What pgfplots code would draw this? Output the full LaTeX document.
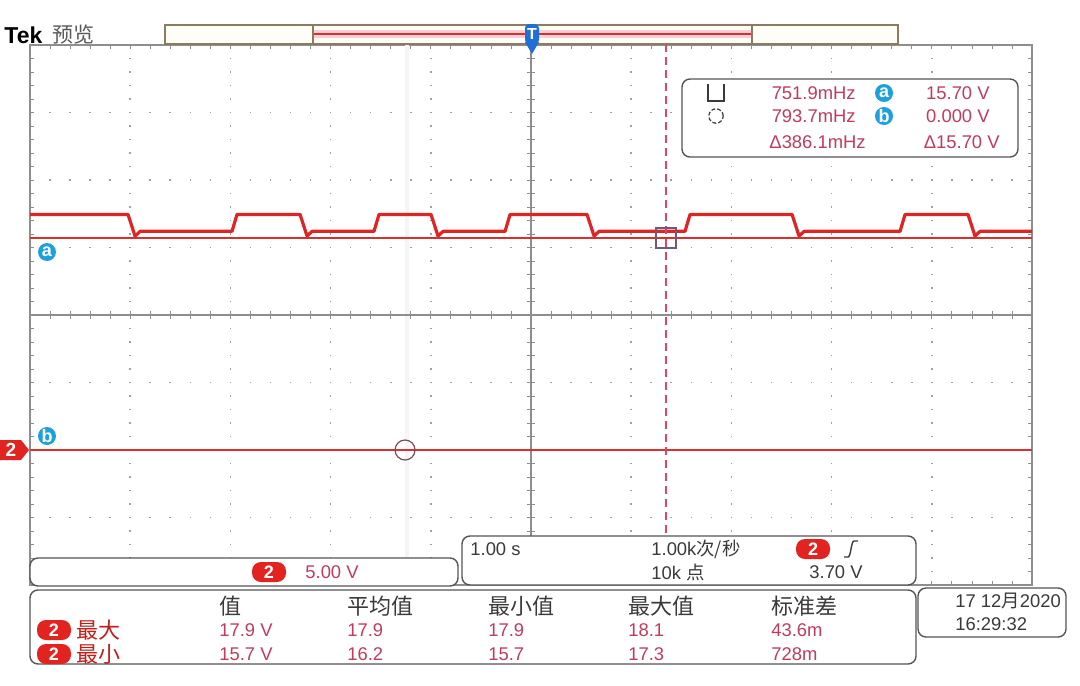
\documentclass[border=0pt]{standalone}
\usepackage{pgfplots}
\pgfplotsset{compat=1.18}
\usepackage{fontspec}
\setmainfont{Liberation Sans}
\newfontfamily\cjk{Noto Sans CJK SC}
\definecolor{trace}{HTML}{E02424}
\definecolor{cur}{HTML}{D9302E}
\definecolor{vcur}{HTML}{E04565}
\definecolor{meas}{HTML}{C03C5C}
\definecolor{grat}{HTML}{8E8E8E}
\definecolor{gdot}{HTML}{A0A0A0}
\definecolor{abblue}{HTML}{1DA1DC}
\definecolor{tblue}{HTML}{1F6FD6}
\definecolor{pill}{HTML}{E2231F}
\definecolor{boxb}{HTML}{555555}
\definecolor{txt}{HTML}{3A3A3A}
\definecolor{barb}{HTML}{8C7B5E}
\definecolor{barf}{HTML}{FFFDF8}
\definecolor{barpink}{HTML}{F8D0D6}
\definecolor{sqc}{HTML}{6F5A7E}
\definecolor{circc}{HTML}{7A4A55}

\begin{document}
\begin{tikzpicture}
\path[use as bounding box] (0,0) rectangle (540pt,-342.5pt);
\begin{axis}[
  at={(15pt,-292.5pt)}, anchor=south west,
  scale only axis, width=501pt, height=270pt,
  xmin=-5, xmax=5, ymin=-10, ymax=30,
  xtick={-5,...,5}, ytick={-10,-5,...,30},
  minor x tick num=4, minor y tick num=4,
  xticklabels={}, yticklabels={},
  tick align=inside, tick pos=both,
  major tick length=2pt, minor tick length=2pt,
  every tick/.style={grat, line width=0.4pt},
  axis line style={grat, line width=0.8pt},
  grid=major,
  major x grid style={gdot, line width=0.8pt, dash pattern=on 0.8pt off 5.95pt, dash phase=0.4pt},
  major y grid style={gdot, line width=0.8pt, dash pattern=on 0.8pt off 9.22pt, dash phase=0.4pt},
  clip=false,
]
% faint band
\addplot[black!4, line width=2pt] coordinates {(-1.24,-10) (-1.24,30)};
% centre crosshair
\draw[grat, line width=0.7pt] (axis cs:-5,10) -- (axis cs:5,10);
\draw[grat, line width=0.7pt] (axis cs:0,-10) -- (axis cs:0,30);
\pgfplotsinvokeforeach{0,...,50}{\draw[grat,line width=0.4pt] (axis cs:{-5+0.2*#1},9.7) -- (axis cs:{-5+0.2*#1},10.3);}
\pgfplotsinvokeforeach{0,...,40}{\draw[grat,line width=0.4pt] (axis cs:-0.04,{-10+#1}) -- (axis cs:0.04,{-10+#1});}
% cursors
\addplot[cur, line width=0.7pt] coordinates {(-5,15.7) (5,15.7)};
\addplot[cur, line width=0.7pt] coordinates {(-5,0) (5,0)};
% trace (channel 2)
\addplot[trace, line width=1.6pt, line join=round] coordinates {
(-5,17.45) (-4.022,17.45) (-3.952,15.85) (-3.90,16.2)
(-2.984,16.2) (-2.934,17.45) (-2.305,17.45) (-2.235,15.85) (-2.185,16.2)
(-1.567,16.2) (-1.517,17.45) (-0.998,17.45) (-0.928,15.85) (-0.878,16.2)
(-0.259,16.2) (-0.209,17.45) (0.559,17.45) (0.629,15.85) (0.679,16.2)
(1.537,16.2) (1.587,17.45) (2.605,17.45) (2.675,15.85) (2.725,16.2)
(3.683,16.2) (3.733,17.45) (4.361,17.45) (4.431,15.85) (4.481,16.2) (5,16.2)};
% vertical cursor
\addplot[vcur, line width=0.8pt, dash pattern=on 4pt off 2.5pt] coordinates {(1.347,-10) (1.347,30)};
\addplot[only marks, mark=square, mark size=5pt, color=sqc, line width=0.6pt] coordinates {(1.347,15.7)};
\addplot[only marks, mark=o, mark size=5pt, color=circc, line width=0.6pt] coordinates {(-1.257,0)};
\end{axis}

\begin{scope}[x=0.5pt,y=-0.5pt,
  mt/.style={font=\fontsize{9.2}{10}\selectfont, text=meas, inner sep=0pt},
  tt/.style={font=\fontsize{9.2}{10}\selectfont, text=txt, inner sep=0pt},
  ht/.style={font=\cjk\fontsize{11}{12}\selectfont, text=txt, inner sep=0pt},
  pl/.style={fill=pill, rounded corners=4.5pt, minimum width=17pt, minimum height=10pt, inner sep=0pt, text=white, font=\bfseries\fontsize{9}{9}\selectfont},
  bc/.style={circle, fill=abblue, minimum size=9pt, inner sep=0pt, text=white, font=\bfseries\fontsize{9}{9}\selectfont},
  bx/.style={draw=boxb, line width=0.7pt, fill=white, rounded corners=4pt}]
% title
\node[anchor=west, font=\bfseries\fontsize{11.5}{12}\selectfont, inner sep=0pt] at (4,35) {Tek};
\node[anchor=west, font=\cjk\fontsize{10.5}{11}\selectfont, text=black!65, inner sep=0pt] at (52,35) {预览};
% record bar
\draw[barb, line width=0.8pt, fill=barf] (165,25) rectangle (898,44);
\fill[barpink] (313,30) rectangle (752,38);
\draw[cur, line width=0.8pt] (313,34) -- (752,34);
\draw[barb, line width=1pt] (313,25) -- (313,44);
\draw[barb, line width=1pt] (752,25) -- (752,44);
% trigger marker
\fill[tblue, rounded corners=2pt] (525,24) rectangle (539,44);
\fill[tblue] (525,42) -- (539,42) -- (532,54) -- cycle;
\node[text=white, font=\bfseries\fontsize{8}{8}\selectfont, inner sep=0pt] at (532,34) {T};
% channel marker
\fill[pill] (0,440) -- (21,440) -- (29,450) -- (21,460) -- (0,460) -- cycle;
\node[text=white, font=\bfseries\fontsize{9.5}{10}\selectfont, inner sep=0pt] at (11,450) {2};
\node[bc] at (47,252) {a};
\node[bc] at (47,436) {b};
% cursor readout
\draw[bx] (682,79) rectangle (1018,157);
\draw[txt, line width=0.6pt] (708,84) -- (708,101) -- (724,101) -- (724,84);
\draw[txt, line width=0.6pt, dash pattern=on 2pt off 1pt] (716,116) circle (3.6pt);
\node[mt, anchor=east] at (856,93) {751.9mHz};
\node[bc] at (884,93) {a};
\node[mt, anchor=east] at (990,93) {15.70 V};
\node[mt, anchor=east] at (856,116) {793.7mHz};
\node[bc] at (884,116) {b};
\node[mt, anchor=east] at (990,116) {0.000 V};
\node[mt, anchor=east] at (866,142) {Δ386.1mHz};
\node[mt, anchor=east] at (1000,142) {Δ15.70 V};
% vertical scale box
\draw[bx] (30,558) rectangle (458,586);
\node[pl] at (269,572) {2};
\node[mt, anchor=west] at (305,572) {5.00 V};
% horizontal / trigger box
\draw[bx] (462,536) rectangle (916,585);
\node[tt, anchor=west] at (470,549) {1.00 s};
\node[tt, anchor=west] at (651,549) {1.00k{\cjk 次/秒}};
\node[pl] at (813,549) {2};
\draw[txt, line width=0.7pt] (844,557) -- (848,557) .. controls (851,557) and (851,541) .. (854,541) -- (858,541);
\node[tt, anchor=west] at (651,572) {10k {\cjk 点}};
\node[tt, anchor=west] at (809,572) {3.70 V};
% measurement table
\draw[bx] (30,590) rectangle (916,664);
\node[ht, anchor=west] at (219,606) {值};
\node[ht, anchor=west] at (347,606) {平均值};
\node[ht, anchor=west] at (488,606) {最小值};
\node[ht, anchor=west] at (628,606) {最大值};
\node[ht, anchor=west] at (771,606) {标准差};
\node[pl] at (54,630) {2};
\node[ht, anchor=west, text=pill!85!black] at (76,630) {最大};
\node[mt, anchor=west] at (219,630) {17.9 V};
\node[mt, anchor=west] at (347,630) {17.9};
\node[mt, anchor=west] at (488,630) {17.9};
\node[mt, anchor=west] at (628,630) {18.1};
\node[mt, anchor=west] at (771,630) {43.6m};
\node[pl] at (54,654) {2};
\node[ht, anchor=west, text=pill!85!black] at (76,654) {最小};
\node[mt, anchor=west] at (219,654) {15.7 V};
\node[mt, anchor=west] at (347,654) {16.2};
\node[mt, anchor=west] at (488,654) {15.7};
\node[mt, anchor=west] at (628,654) {17.3};
\node[mt, anchor=west] at (771,654) {728m};
% date box
\draw[bx] (918,588) rectangle (1066,637);
\node[tt, anchor=west] at (955,601) {17 12{\cjk 月}2020};
\node[tt, anchor=west] at (955,624) {16:29:32};
\end{scope}
\end{tikzpicture}
\end{document}
